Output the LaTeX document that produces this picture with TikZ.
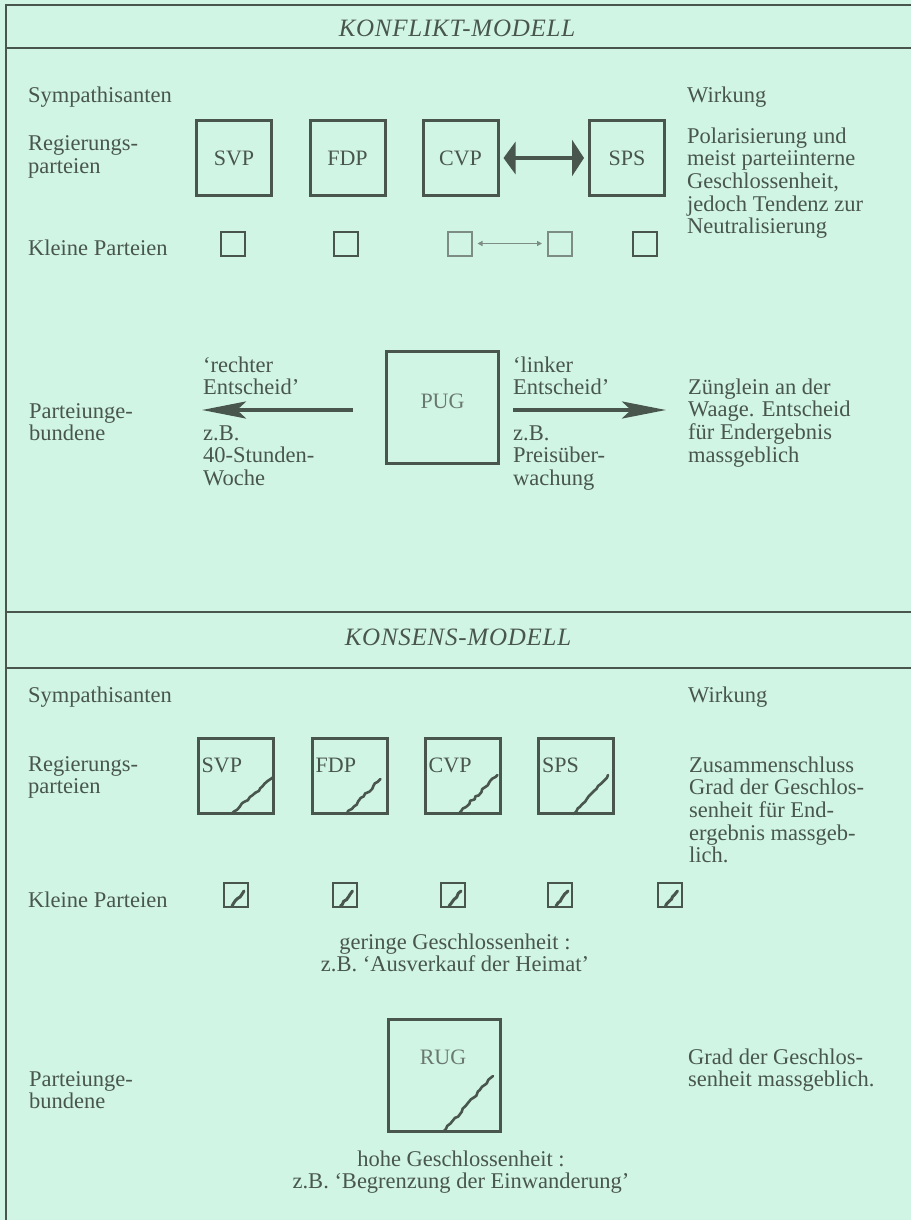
\documentclass[tikz,border=0pt]{standalone}
\usepackage{fontspec}
\setmainfont{Liberation Serif}
\newfontfamily\myttlfamily[LetterSpace=3]{Liberation Serif}
\usetikzlibrary{arrows.meta,decorations.pathmorphing}
\definecolor{bg}{RGB}{209,245,229}
\definecolor{ink}{RGB}{72,86,78}
\definecolor{inklight}{RGB}{105,120,112}
\definecolor{inkpale}{RGB}{125,140,132}
\newcommand\mybody{\fontsize{22.5}{22.7}\selectfont}
\newcommand\myboxfont{\fontsize{22}{22}\selectfont}
\newcommand\myttl{\myttlfamily\itshape\fontsize{25}{25}\selectfont}
\tikzset{
  frame/.style={draw=ink, line width=2pt},
  bigbox/.style={draw=ink, line width=3pt, minimum size=75pt, inner sep=0pt, font=\myboxfont, text=ink},
  smallbox/.style={draw=ink, line width=2pt, minimum size=24pt, inner sep=0pt},
  palebox/.style={smallbox, draw=inkpale},
  txt/.style={anchor=base west, inner sep=0pt, align=left, font=\mybody, text=ink},
  ctxt/.style={txt, anchor=base, align=center},
  ttl/.style={inner sep=0pt, font=\myttl, text=ink},
  boxlbl/.style={anchor=base west, inner sep=0pt, font=\myboxfont, text=ink},
  greylbl/.style={inner sep=0pt, font=\myboxfont, text=inklight},
  wavy/.style={draw=ink, line width=2.6pt, line cap=round, line join=round, decorate,
    decoration={random steps, segment length=3.5pt, amplitude=1.1pt}},
  wavysmall/.style={draw=ink, line width=3pt, line cap=round, line join=round, decorate,
    decoration={random steps, segment length=3pt, amplitude=0.8pt}},
  dblarr/.style={draw=ink, line width=4pt, {Triangle[length=12pt,width=32pt]}-{Triangle[length=12pt,width=36pt]}},
  smallarr/.style={draw=inkpale, line width=1.6pt, {Triangle[length=5pt,width=5pt]}-{Triangle[length=5pt,width=5pt]}},
  longarr/.style={draw=ink, line width=4pt, -{Stealth[length=44pt,width=17pt,inset=9pt]}}
}
\begin{document}
\begin{tikzpicture}[x=1pt,y=-1pt]
\pgfmathsetseed{7}
\fill[bg] (0,0) rectangle (911,1220);
\useasboundingbox (0,0) rectangle (911,1220);
% frame
\draw[frame] (911,5) -- (6,5) -- (6,1220);
\draw[frame] (6,48) -- (911,48);
\draw[frame] (6,612) -- (911,612);
\draw[frame] (6,668) -- (911,668);

% ===== KONFLIKT-MODELL =====
% (multi-line texts are placed by the baseline of their LAST line)
\node[ttl] (title1) at (457,28) {KONFLIKT-MODELL};
\node[txt] (symp1) at (28,103) {Sympathisanten};
\node[txt] (wirk1) at (687,103) {Wirkung};
\node[txt] (reg1) at (28,173.2) {Regierungs-\\parteien};
\node[txt] (pol) at (687,233.8) {Polarisierung und\\meist parteiinterne\\Geschlossenheit,\\jedoch Tendenz zur\\Neutralisierung};
\node[txt] (klein1) at (28,255) {Kleine Parteien};

\node[bigbox] (SVP) at (234,158) {SVP};
\node[bigbox] (FDP) at (347.5,158) {FDP};
\node[bigbox] (CVP) at (460.5,158) {CVP};
\node[bigbox] (SPS) at (627,158) {SPS};
\draw[dblarr, shorten <=4pt, shorten >=4pt] (CVP.east) -- (SPS.west);

\node[smallbox] (k1) at (232.5,243.5) {};
\node[smallbox] (k2) at (346,243.5) {};
\node[palebox] (k3) at (459.5,243.5) {};
\node[palebox] (k4) at (560,243.5) {};
\node[smallbox] (k5) at (645,243.5) {};
\draw[smallarr, shorten <=5pt, shorten >=5pt] (k3.east) -- (k4.west);

\node[bigbox, minimum size=112pt, label={[greylbl, yshift=6pt]center:PUG}] (PUG) at (442.5,407) {};
\coordinate (La) at (202,410);
\coordinate (Ra) at (666,410);
\draw[longarr, shorten <=32pt] (PUG.west |- La) -- (La);
\draw[longarr, shorten <=13pt] (PUG.east |- Ra) -- (Ra);

\node[txt] (pu1) at (29,440.7) {Parteiunge-\\bundene};
\node[txt] (rechts) at (203,394.7) {‘rechter\\Entscheid’};
\node[txt] (zb1) at (203,485.4) {z.B.\\40-Stunden-\\Woche};
\node[txt] (links) at (513,394.7) {‘linker\\Entscheid’};
\node[txt] (zb2) at (513,485.4) {z.B.\\Preisüber-\\wachung};
\node[txt] (zung) at (688,462.1) {Zünglein an der\\Waage. Entscheid\\für Endergebnis\\massgeblich};

% ===== KONSENS-MODELL =====
\node[ttl] (title2) at (458,637) {KONSENS-MODELL};
\node[txt] (symp2) at (28,702) {Sympathisanten};
\node[txt] (wirk2) at (688,702) {Wirkung};
\node[txt] (reg2) at (28,793.7) {Regierungs-\\parteien};
\node[txt] (zus) at (689,862.8) {Zusammenschluss\\Grad der Geschlos-\\senheit für End-\\ergebnis massgeb-\\lich.};
\node[txt] (klein2) at (28,907) {Kleine Parteien};

\node[bigbox] (SVPb) at (235.5,776) {};
\node[bigbox] (FDPb) at (349.5,776) {};
\node[bigbox] (CVPb) at (462.5,776) {};
\node[bigbox] (SPSb) at (576,776) {};
\node[boxlbl] (lSVP) at ([xshift=5pt,yshift=-35pt]SVPb.north west) {SVP};
\node[boxlbl] (lFDP) at ([xshift=5pt,yshift=-35pt]FDPb.north west) {FDP};
\node[boxlbl] (lCVP) at ([xshift=5pt,yshift=-35pt]CVPb.north west) {CVP};
\node[boxlbl] (lSPS) at ([xshift=5pt,yshift=-35pt]SPSb.north west) {SPS};
\draw[wavy] ([xshift=35pt,yshift=1pt]SVPb.south west) -- ([xshift=-1pt,yshift=-40pt]SVPb.north east);
\draw[wavy] ([xshift=36pt,yshift=1pt]FDPb.south west) -- ([xshift=-8pt,yshift=-42pt]FDPb.north east);
\draw[wavy] ([xshift=35pt,yshift=1pt]CVPb.south west) -- ([xshift=-4pt,yshift=-38pt]CVPb.north east);
\draw[wavy] ([xshift=36pt,yshift=1pt]SPSb.south west) -- ([xshift=-7pt,yshift=-38pt]SPSb.north east);

\node[smallbox] (m1) at (236,895) {};
\node[smallbox] (m2) at (344.5,895) {};
\node[smallbox] (m3) at (453,895) {};
\node[smallbox] (m4) at (560,895) {};
\node[smallbox] (m5) at (669.5,895) {};
\foreach \m in {m1,m2,m3,m4,m5}{
  \draw[wavysmall] ([xshift=9pt,yshift=2pt]\m.south west) -- ([xshift=-5pt,yshift=-9pt]\m.north east);
}

\node[ctxt] (ger) at (455,971.7) {geringe Geschlossenheit :\\z.B. ‘Ausverkauf der Heimat’};

\node[bigbox, minimum size=112pt] (RUG) at (444.5,1075.5) {};
\node[greylbl] (lRUG) at (443,1057) {RUG};
\draw[wavy] ([xshift=56pt,yshift=1pt]RUG.south west) -- ([xshift=-9pt,yshift=-58pt]RUG.north east);

\node[txt] (pu2) at (29,1108.7) {Parteiunge-\\bundene};
\node[txt] (grad) at (688,1086.7) {Grad der Geschlos-\\senheit massgeblich.};
\node[ctxt] (hohe) at (461,1188.7) {hohe Geschlossenheit :\\z.B. ‘Begrenzung der Einwanderung’};
\end{tikzpicture}
\end{document}
